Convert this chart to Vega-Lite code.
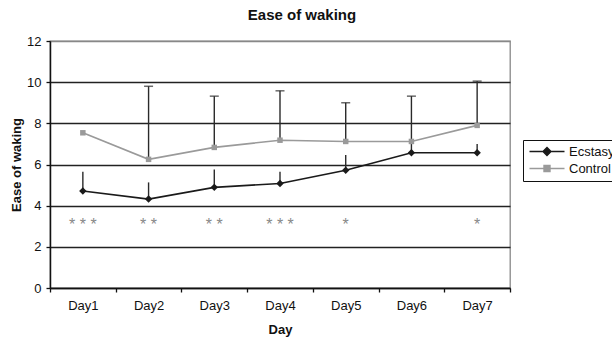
{
  "$schema": "https://vega.github.io/schema/vega-lite/v6.json",
  "width": 460,
  "height": 247,
  "autosize": "none",
  "padding": {"left": 50, "top": 41, "right": 102, "bottom": 50},
  "background": "white",
  "config": {"font": "Liberation Sans", "view": {"stroke": "#888", "strokeWidth": 1.3}},
  "title": {"text": "Ease of waking", "fontSize": 15, "fontWeight": "bold", "color": "#111", "dx": 22, "offset": 12, "anchor": "middle"},
  "datasets": {
    "main": [
      {"day": "Day1", "series": "Ecstasy", "value": 4.71, "upper": 5.65},
      {"day": "Day2", "series": "Ecstasy", "value": 4.32, "upper": 5.13},
      {"day": "Day3", "series": "Ecstasy", "value": 4.89, "upper": 5.76},
      {"day": "Day4", "series": "Ecstasy", "value": 5.08, "upper": 5.65},
      {"day": "Day5", "series": "Ecstasy", "value": 5.72, "upper": 6.46},
      {"day": "Day6", "series": "Ecstasy", "value": 6.57, "upper": 7.2},
      {"day": "Day7", "series": "Ecstasy", "value": 6.57, "upper": 6.99},
      {"day": "Day1", "series": "Control", "value": 7.54, "upper": null},
      {"day": "Day2", "series": "Control", "value": 6.25, "upper": 9.8},
      {"day": "Day3", "series": "Control", "value": 6.83, "upper": 9.32},
      {"day": "Day4", "series": "Control", "value": 7.18, "upper": 9.58},
      {"day": "Day5", "series": "Control", "value": 7.12, "upper": 9.0},
      {"day": "Day6", "series": "Control", "value": 7.12, "upper": 9.32},
      {"day": "Day7", "series": "Control", "value": 7.9, "upper": 10.05}
    ],
    "sig": [
      {"day": "Day1", "sig": "* * *"},
      {"day": "Day2", "sig": "* *"},
      {"day": "Day3", "sig": "* *"},
      {"day": "Day4", "sig": "* * *"},
      {"day": "Day5", "sig": "*"},
      {"day": "Day7", "sig": "*"}
    ]
  },
  "encoding": {
    "x": {
      "field": "day", "type": "nominal",
      "scale": {"type": "band", "paddingInner": 0, "paddingOuter": 0, "domain": ["Day1","Day2","Day3","Day4","Day5","Day6","Day7"]},
      "axis": {"title": "Day", "labelAngle": 0, "tickBand": "extent", "domainColor": "#111", "domainWidth": 1.5, "tickColor": "#111", "tickWidth": 1.3, "tickSize": 4, "labelPadding": 7, "labelFontSize": 13, "labelColor": "#111", "titleFontSize": 13, "titleFontWeight": "bold", "titleColor": "#111", "titlePadding": 11}
    }
  },
  "layer": [
    {
      "data": {"name": "main"},
      "transform": [{"filter": "datum.upper != null"}],
      "mark": {"type": "rule", "color": "#2a2a2a", "strokeWidth": 1.4},
      "encoding": {
        "y": {
          "field": "value", "type": "quantitative",
          "scale": {"domain": [0, 12], "nice": false},
          "axis": {"title": "Ease of waking", "values": [0,2,4,6,8,10,12], "grid": true, "gridColor": {"condition": {"test": "datum.value === 12", "value": "#888"}, "value": "#222"}, "gridWidth": 1.4, "domainColor": "#111", "domainWidth": 1.5, "tickColor": "#111", "tickWidth": 1.3, "tickSize": 4, "labelPadding": 5, "labelFontSize": 13, "labelColor": "#111", "titleFontSize": 13, "titleFontWeight": "bold", "titleColor": "#111", "titlePadding": 3}
        },
        "y2": {"field": "upper"}
      }
    },
    {
      "data": {"name": "main"},
      "transform": [{"filter": "datum.upper != null && datum.series === 'Control'"}],
      "mark": {"type": "tick", "color": "#2a2a2a", "size": 9, "thickness": 1.5, "orient": "horizontal"},
      "encoding": {
        "y": {"field": "upper", "type": "quantitative", "title": "Ease of waking"}
      }
    },
    {
      "data": {"name": "main"},
      "mark": {"type": "line", "strokeWidth": 1.6},
      "encoding": {
        "y": {"field": "value", "type": "quantitative", "title": "Ease of waking"},
        "color": {
          "field": "series", "type": "nominal",
          "scale": {"domain": ["Control", "Ecstasy"], "range": ["#9a9a9a", "#1a1a1a"]},
          "legend": {
            "title": null, "orient": "none", "legendX": 473, "legendY": 99,
            "strokeColor": "#111", "padding": 5, "labelFontSize": 13, "labelColor": "#111",
            "symbolSize": 100, "labelOffset": 28, "rowPadding": 3, "values": ["Ecstasy", "Control"],
            "encode": {
              "symbols": {"update": {
                "shape": {"signal": "datum.value === 'Ecstasy' ? 'M-1,0H6M2.5,-0.8L3.3,0L2.5,0.8L1.7,0Z' : 'M-1,0H6M1.9,-0.6H3.1V0.6H1.9Z'"},
                "fill": {"signal": "datum.value === 'Ecstasy' ? '#1a1a1a' : '#9a9a9a'"},
                "stroke": {"signal": "datum.value === 'Ecstasy' ? '#1a1a1a' : '#9a9a9a'"},
                "strokeWidth": {"value": 1.4},
                "opacity": {"value": 1},
                "fillOpacity": {"value": 1}
              }}
            }
          }
        },
        "order": {"field": "series", "sort": "ascending"}
      }
    },
    {
      "data": {"name": "main"},
      "transform": [{"filter": "datum.series === 'Control'"}],
      "mark": {"type": "point", "filled": true, "opacity": 1, "shape": "square", "size": 30, "color": "#9a9a9a"},
      "encoding": {
        "y": {"field": "value", "type": "quantitative", "title": "Ease of waking"}
      }
    },
    {
      "data": {"name": "main"},
      "transform": [{"filter": "datum.series === 'Ecstasy'"}],
      "mark": {"type": "point", "filled": true, "opacity": 1, "shape": "diamond", "size": 55, "color": "#1a1a1a"},
      "encoding": {
        "y": {"field": "value", "type": "quantitative", "title": "Ease of waking"}
      }
    },
    {
      "data": {"name": "sig"},
      "mark": {"type": "text", "fontSize": 16, "color": "#888", "baseline": "middle", "dy": 4},
      "encoding": {
        "y": {"datum": 3.25, "type": "quantitative", "title": "Ease of waking"},
        "text": {"field": "sig"}
      }
    }
  ]
}
